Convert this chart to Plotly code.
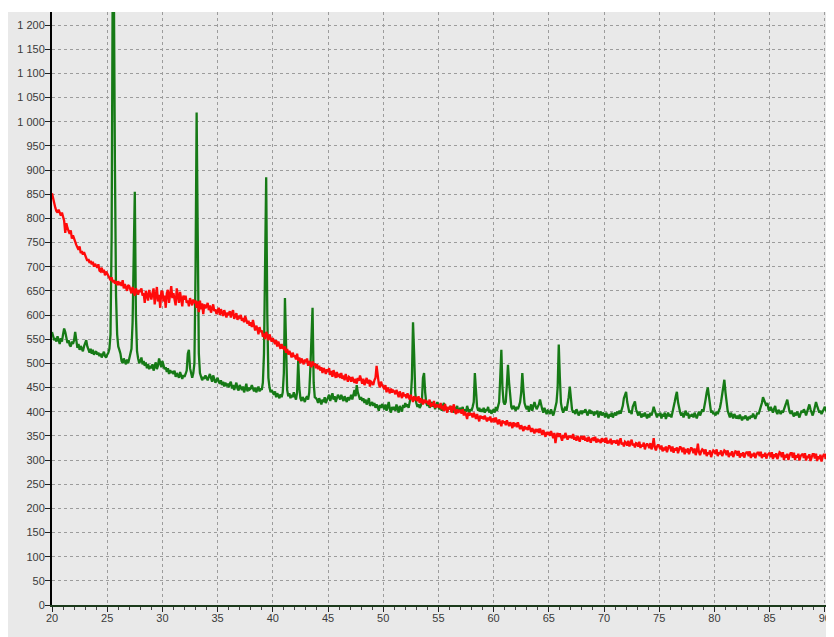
import numpy as np
import plotly.graph_objects as go

X_START = 20.0
X_STEP = 0.1

# red series, one row per degree (x = d.0 ... d.9)
red_rows = [
    [852, 840, 830, 822, 815, 812, 818, 810, 806, 812],  # 20
    [805, 795, 770, 790, 780, 772, 768, 775, 758, 765],  # 21
    [760, 752, 745, 740, 735, 742, 728, 732, 725, 730],  # 22
    [722, 718, 712, 716, 708, 712, 705, 710, 700, 706],  # 23
    [702, 698, 705, 692, 690, 698, 688, 694, 682, 690],  # 24
    [686, 680, 676, 672, 678, 668, 672, 665, 670, 662],  # 25
    [670, 662, 668, 660, 672, 655, 664, 658, 650, 662],  # 26
    [660, 652, 645, 658, 650, 640, 655, 648, 642, 652],  # 27
    [648, 655, 640, 645, 625, 650, 642, 630, 652, 640],  # 28
    [632, 645, 655, 622, 640, 658, 628, 642, 615, 648],  # 29
    [650, 628, 640, 615, 645, 652, 625, 640, 660, 635],  # 30
    [645, 632, 620, 655, 640, 625, 648, 636, 618, 640],  # 31
    [632, 640, 625, 630, 618, 635, 628, 620, 632, 625],  # 32
    [630, 615, 628, 606, 630, 612, 624, 602, 622, 614],  # 33
    [618, 625, 610, 620, 605, 615, 622, 608, 612, 602],  # 34
    [610, 615, 600, 612, 605, 598, 610, 602, 595, 605],  # 35
    [600, 608, 595, 605, 610, 592, 600, 604, 590, 598],  # 36
    [595, 600, 588, 594, 585, 598, 590, 582, 588, 578],  # 37
    [585, 575, 590, 580, 568, 578, 572, 560, 575, 565],  # 38
    [568, 555, 562, 550, 565, 558, 548, 560, 552, 545],  # 39
    [552, 545, 540, 548, 535, 545, 538, 530, 540, 532],  # 40
    [530, 535, 522, 530, 518, 526, 520, 512, 522, 515],  # 41
    [515, 508, 520, 505, 512, 500, 510, 505, 498, 508],  # 42
    [502, 510, 495, 505, 498, 492, 504, 496, 500, 490],  # 43
    [498, 488, 495, 485, 492, 480, 490, 486, 478, 488],  # 44
    [482, 490, 476, 484, 472, 486, 478, 470, 482, 474],  # 45
    [476, 470, 480, 468, 475, 465, 478, 470, 462, 472],  # 46
    [470, 462, 472, 465, 460, 468, 458, 470, 464, 475],  # 47
    [465, 458, 468, 455, 462, 470, 458, 466, 452, 462],  # 48
    [460, 455, 465, 470, 495, 472, 458, 450, 462, 455],  # 49
    [452, 446, 455, 440, 450, 445, 438, 448, 440, 444],  # 50
    [442, 436, 445, 438, 430, 442, 435, 428, 440, 432],  # 51
    [436, 428, 438, 430, 425, 435, 428, 420, 432, 426],  # 52
    [428, 422, 432, 418, 428, 420, 415, 425, 418, 422],  # 53
    [420, 415, 425, 410, 418, 412, 422, 408, 415, 410],  # 54
    [414, 408, 418, 405, 412, 402, 416, 406, 398, 410],  # 55
    [405, 412, 398, 408, 415, 400, 395, 405, 398, 402],  # 56
    [402, 396, 405, 392, 400, 394, 385, 398, 392, 396],  # 57
    [395, 388, 398, 392, 385, 395, 388, 380, 392, 386],  # 58
    [390, 384, 392, 386, 380, 388, 382, 390, 378, 384],  # 59
    [385, 378, 388, 380, 374, 384, 378, 370, 382, 376],  # 60
    [380, 372, 382, 376, 370, 378, 374, 366, 378, 372],  # 61
    [374, 368, 378, 370, 364, 372, 366, 360, 370, 364],  # 62
    [368, 362, 372, 364, 358, 366, 360, 355, 364, 360],  # 63
    [362, 356, 365, 358, 352, 362, 355, 348, 358, 352],  # 64
    [358, 350, 360, 352, 345, 356, 335, 350, 356, 348],  # 65
    [355, 348, 340, 352, 345, 356, 348, 342, 350, 346],  # 66
    [350, 345, 354, 342, 348, 340, 350, 345, 338, 348],  # 67
    [348, 342, 350, 340, 346, 338, 348, 342, 336, 344],  # 68
    [345, 340, 348, 336, 344, 338, 342, 335, 345, 340],  # 69
    [342, 336, 346, 334, 340, 335, 344, 332, 340, 336],  # 70
    [340, 334, 342, 330, 338, 345, 332, 336, 328, 338],  # 71
    [336, 330, 340, 328, 335, 342, 330, 334, 326, 335],  # 72
    [334, 328, 338, 325, 332, 328, 336, 322, 330, 334],  # 73
    [330, 325, 335, 322, 330, 345, 326, 320, 328, 332],  # 74
    [328, 322, 330, 318, 326, 320, 328, 316, 324, 330],  # 75
    [326, 318, 328, 315, 324, 320, 326, 314, 322, 328],  # 76
    [324, 316, 326, 312, 320, 318, 324, 312, 320, 326],  # 77
    [322, 314, 324, 310, 318, 334, 316, 310, 318, 322],  # 78
    [320, 312, 322, 308, 316, 312, 320, 306, 314, 320],  # 79
    [318, 312, 322, 308, 316, 312, 320, 308, 314, 320],  # 80
    [318, 310, 320, 306, 315, 310, 318, 306, 312, 318],  # 81
    [317, 309, 319, 305, 314, 308, 316, 305, 312, 316],  # 82
    [316, 308, 318, 304, 313, 308, 315, 304, 311, 315],  # 83
    [315, 308, 317, 304, 312, 307, 315, 303, 310, 314],  # 84
    [315, 306, 316, 302, 312, 306, 314, 302, 310, 316],  # 85
    [314, 306, 316, 300, 311, 305, 313, 300, 309, 314],  # 86
    [314, 305, 315, 300, 310, 305, 313, 299, 308, 312],  # 87
    [313, 304, 314, 299, 309, 304, 312, 298, 307, 312],  # 88
    [312, 303, 313, 298, 308, 302, 311, 297, 306, 311],  # 89
    [311, 302, 312, 298, 308, 304, 310, 306],            # 90
]

# green series, one row per degree (x = d.0 ... d.9)
green_rows = [
    [565, 558, 548, 552, 545, 556, 548, 540, 552, 545],  # 20
    [560, 572, 565, 550, 542, 548, 538, 535, 545, 540],  # 21
    [548, 565, 545, 532, 540, 528, 536, 530, 525, 535],  # 22
    [540, 548, 535, 528, 522, 530, 520, 528, 518, 522],  # 23
    [525, 518, 522, 515, 520, 512, 518, 524, 515, 512],  # 24
    [518, 522, 530, 560, 760, 1300, 1290, 910, 640, 560],  # 25
    [535, 528, 520, 505, 500, 510, 502, 498, 508, 500],  # 26
    [510, 520, 530, 585, 720, 855, 600, 525, 510, 500],  # 27
    [505, 512, 498, 505, 495, 502, 490, 498, 488, 495],  # 28
    [490, 498, 485, 492, 502, 488, 495, 510, 500, 492],  # 29
    [505, 495, 488, 492, 482, 490, 478, 486, 480, 484],  # 30
    [478, 485, 472, 480, 475, 470, 482, 474, 468, 476],  # 31
    [472, 478, 485, 520, 528, 490, 478, 470, 480, 500],  # 32
    [690, 1019, 765, 520, 480, 470, 465, 472, 468, 475],  # 33
    [470, 465, 472, 478, 470, 462, 475, 468, 460, 465],  # 34
    [470, 462, 458, 465, 455, 462, 452, 460, 455, 458],  # 35
    [450, 458, 462, 448, 455, 445, 452, 460, 448, 444],  # 36
    [455, 448, 445, 452, 440, 448, 458, 442, 450, 446],  # 37
    [448, 455, 445, 442, 450, 440, 446, 452, 442, 448],  # 38
    [445, 460, 520, 790, 885, 600, 470, 450, 440, 445],  # 39
    [440, 435, 442, 430, 438, 432, 428, 436, 430, 440],  # 40
    [480, 635, 520, 445, 432, 438, 428, 435, 430, 440],  # 41
    [432, 425, 440, 505, 450, 428, 422, 430, 426, 420],  # 42
    [428, 432, 425, 440, 490, 560, 615, 460, 430, 428],  # 43
    [425, 418, 428, 422, 415, 425, 420, 430, 418, 424],  # 44
    [428, 435, 422, 430, 438, 425, 432, 420, 428, 435],  # 45
    [430, 425, 435, 428, 422, 432, 426, 420, 430, 424],  # 46
    [428, 435, 425, 438, 445, 432, 455, 440, 430, 425],  # 47
    [430, 422, 428, 418, 425, 415, 420, 428, 412, 418],  # 48
    [420, 412, 418, 408, 415, 410, 402, 414, 408, 416],  # 49
    [412, 405, 415, 402, 410, 420, 405, 398, 410, 404],  # 50
    [410, 402, 415, 405, 398, 412, 406, 400, 414, 408],  # 51
    [418, 410, 415, 408, 420, 430, 470, 585, 520, 440],  # 52
    [418, 410, 415, 408, 412, 420, 470, 480, 440, 418],  # 53
    [412, 418, 408, 415, 420, 410, 418, 405, 412, 420],  # 54
    [410, 405, 415, 402, 412, 418, 405, 410, 400, 408],  # 55
    [405, 412, 400, 408, 398, 410, 404, 412, 400, 406],  # 56
    [408, 402, 410, 398, 405, 400, 412, 404, 398, 405],  # 57
    [402, 410, 420, 480, 440, 410, 402, 408, 400, 405],  # 58
    [400, 408, 398, 405, 402, 410, 398, 404, 396, 402],  # 59
    [405, 398, 410, 402, 415, 420, 470, 528, 450, 420],  # 60
    [415, 420, 455, 497, 460, 425, 410, 405, 412, 408],  # 61
    [402, 410, 405, 412, 420, 440, 480, 445, 418, 410],  # 62
    [405, 412, 400, 408, 415, 402, 410, 420, 412, 405],  # 63
    [410, 415, 425, 412, 405, 398, 408, 402, 395, 402],  # 64
    [400, 395, 405, 398, 392, 400, 408, 420, 450, 539],  # 65
    [470, 418, 405, 398, 405, 410, 402, 415, 430, 452],  # 66
    [418, 405, 398, 402, 395, 405, 400, 392, 398, 402],  # 67
    [395, 402, 398, 405, 400, 392, 398, 404, 396, 400],  # 68
    [398, 392, 400, 395, 402, 388, 396, 400, 392, 398],  # 69
    [395, 388, 398, 392, 386, 395, 390, 398, 388, 394],  # 70
    [398, 392, 400, 395, 402, 396, 405, 412, 428, 435],  # 71
    [441, 420, 405, 398, 402, 395, 410, 418, 421, 405],  # 72
    [398, 392, 400, 395, 388, 396, 390, 398, 392, 386],  # 73
    [395, 388, 398, 392, 400, 410, 402, 395, 388, 396],  # 74
    [392, 398, 386, 395, 390, 398, 385, 392, 398, 390],  # 75
    [395, 388, 398, 405, 420, 432, 441, 420, 405, 398],  # 76
    [392, 398, 388, 395, 402, 392, 398, 386, 394, 390],  # 77
    [395, 388, 398, 392, 386, 394, 400, 392, 398, 405],  # 78
    [400, 410, 425, 440, 450, 432, 410, 398, 402, 395],  # 79
    [398, 392, 400, 395, 402, 408, 420, 438, 452, 466],  # 80
    [440, 415, 402, 395, 388, 398, 392, 386, 395, 390],  # 81
    [386, 392, 385, 394, 388, 382, 390, 385, 392, 388],  # 82
    [382, 390, 385, 392, 388, 396, 390, 385, 392, 398],  # 83
    [395, 402, 410, 418, 430, 425, 420, 412, 418, 405],  # 84
    [402, 410, 404, 398, 406, 412, 400, 395, 404, 398],  # 85
    [395, 402, 398, 405, 410, 418, 425, 412, 400, 396],  # 86
    [402, 395, 390, 398, 392, 400, 395, 388, 396, 402],  # 87
    [398, 405, 400, 392, 400, 408, 415, 405, 398, 392],  # 88
    [400, 410, 420, 412, 405, 398, 402, 395, 400, 406],  # 89
    [410, 404, 398, 405, 412, 408, 418, 425],            # 90
]

x_tick_vals = [20, 25, 30, 35, 40, 45, 50, 55, 60, 65, 70, 75, 80, 85, 90]

red = [v for row in red_rows for v in row]
green = [v for row in green_rows for v in row]
x_red = np.round(X_START + X_STEP * np.arange(len(red)), 1)
x_green = np.round(X_START + X_STEP * np.arange(len(green)), 1)

BG = "#e9e9e9"

fig = go.Figure()
fig.add_trace(go.Scatter(x=x_green, y=green, mode="lines",
                         line=dict(color="#167a16", width=2.3), showlegend=False))
fig.add_trace(go.Scatter(x=x_red, y=red, mode="lines",
                         line=dict(color="#ff0a0a", width=2.3), showlegend=False))

grid = dict(showgrid=True, gridcolor="#9c9c9c", gridwidth=1, griddash="3px,3px")
# page body adds an 8px margin, so the figure is 8px smaller than the window
fig.update_layout(
    width=826, height=629,
    margin=dict(l=44, r=1, t=4, b=32, autoexpand=False),
    paper_bgcolor=BG,
    plot_bgcolor=BG,
    separators=". ",
    font=dict(family="Liberation Sans, Arial, sans-serif", size=11, color="#3a3a3a"),
    shapes=[dict(type="rect", xref="paper", yref="paper", x0=-0.1, x1=1.1,
                 y0=1.0, y1=1.05, fillcolor="white", line=dict(width=0), layer="below")],
    xaxis=dict(range=[20, 90.74], tickvals=x_tick_vals, ticks="outside", ticklen=5,
               tickcolor="#222", showline=True, linecolor="#1b3a1b", linewidth=2,
               zeroline=False, automargin=False, ticklabelstandoff=-3,
               ticklabeloverflow="allow",
               minor=dict(dtick=1, ticks="outside", ticklen=3,
                          tickcolor="#444", showgrid=False),
               **grid),
    yaxis=dict(range=[0, 1227], dtick=50, tick0=0, tickformat=",d", ticks="outside",
               ticklen=5, tickcolor="#222", showline=True, linecolor="black",
               linewidth=2, zeroline=False, automargin=False, ticklabelstandoff=-2,
               **grid),
)
fig.write_html("out.html")
